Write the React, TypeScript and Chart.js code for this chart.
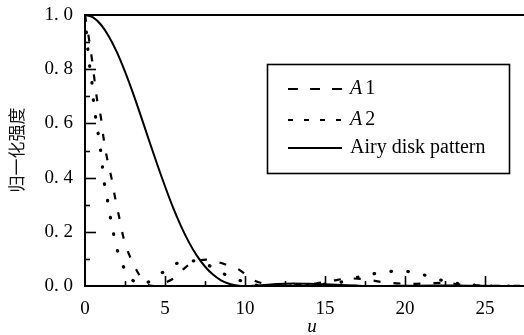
import React, { useEffect, useRef } from "react";
import { Chart, registerables } from "chart.js";
Chart.register(...registerables);

// ---- data ----
const uAiry = [0, 0.5, 1, 1.5, 2, 2.5, 3, 3.5, 4, 4.5, 5, 5.5, 6, 6.5, 7, 7.5, 8, 8.5, 9, 9.5, 10, 11, 12, 13, 14, 15, 16, 17, 18, 19, 20, 22, 24, 26, 27.5];
const iAiry = [1, 0.991, 0.964, 0.92, 0.862, 0.791, 0.712, 0.626, 0.538, 0.451, 0.368, 0.29, 0.221, 0.161, 0.111, 0.072, 0.042, 0.021, 0.0085, 0.0019, 0, 0.003, 0.007, 0.009, 0.008, 0.006, 0.004, 0.0015, 0.0001, 0.0003, 0.001, 0.002, 0.001, 0.0001, 0.0001];

const uA1 = [0, 0.2, 0.45, 0.75, 1.0, 1.15, 1.35, 1.65, 1.9, 2.15, 2.4, 2.8, 3.4, 3.8, 4.3, 5.0, 5.7, 6.3, 7.0, 7.6, 8.2, 9.0, 9.5, 10.0, 10.6, 11.5, 12.5, 13.5, 14.5, 15.5, 16.5, 17.5, 18.5, 19.5, 20.5, 21.5, 22.5, 23.5, 24.5, 27.5];
const iA1 = [1.0, 0.93, 0.83, 0.69, 0.62, 0.55, 0.48, 0.4, 0.32, 0.25, 0.18, 0.11, 0.04, 0.008, 0.0, 0.012, 0.035, 0.07, 0.092, 0.097, 0.09, 0.075, 0.065, 0.045, 0.02, 0.006, 0.003, 0.005, 0.01, 0.02, 0.028, 0.025, 0.015, 0.01, 0.008, 0.01, 0.012, 0.005, 0.002, 0];

const uA2 = [0, 0.12, 0.25, 0.42, 0.5, 0.62, 0.75, 0.93, 1.06, 1.15, 1.35, 1.5, 1.7, 1.9, 2.2, 2.7, 3.2, 3.6, 4.1, 4.6, 5.1, 5.6, 6.2, 6.7, 7.2, 7.7, 8.6, 9.7, 10.5, 11.5, 12.5, 13.5, 14.5, 15.7, 16.6, 17.6, 18.8, 19.8, 20.8, 21.8, 22.8, 23.8, 25, 27.5];
const iA2 = [1.0, 0.91, 0.83, 0.76, 0.7, 0.64, 0.59, 0.52, 0.46, 0.4, 0.34, 0.28, 0.22, 0.16, 0.1, 0.04, 0.012, 0.005, 0.02, 0.04, 0.06, 0.08, 0.09, 0.093, 0.088, 0.077, 0.047, 0.02, 0.005, 0.0, 0.0, 0.003, 0.006, 0.01, 0.025, 0.04, 0.052, 0.055, 0.047, 0.03, 0.013, 0.007, 0, 0];

const xTickValues = [0, 5, 10, 15, 20, 25];
const yTickValues = [0, 0.2, 0.4, 0.6, 0.8, 1.0];
const xMinorStep = 2.5;
const yMinorStep = 0.1;
const xMax = 27.44;

const seriesNames = ["A1", "A2", "Airy disk pattern"];
const yTitle = "归一化强度";
const xTitle = "u";

const SERIF = "'Liberation Serif', 'Times New Roman', serif";

function pts(us: number[], is: number[]) {
  return us.map((u, k) => ({ x: u, y: is[k] }));
}

const decor = {
  id: "decor",
  afterDatasetsDraw(chart: any) {
    const { ctx, chartArea: ca, scales } = chart;
    const x = scales.x;
    const y = scales.y;
    ctx.save();
    ctx.strokeStyle = "#000";
    ctx.fillStyle = "#000";
    // top frame line
    ctx.lineWidth = 2;
    ctx.beginPath();
    ctx.moveTo(ca.left, ca.top);
    ctx.lineTo(ca.right, ca.top);
    ctx.stroke();
    // y ticks (inward)
    ctx.lineWidth = 1.6;
    for (let k = 1; k <= 9; k++) {
      const v = k * yMinorStep;
      const py = Math.round(y.getPixelForValue(v)) + 0.5;
      const len = k % 2 === 0 ? 11 : 5;
      ctx.beginPath();
      ctx.moveTo(ca.left, py);
      ctx.lineTo(ca.left + len, py);
      ctx.stroke();
    }
    // x ticks (inward)
    for (let k = 1; k * xMinorStep < xMax; k++) {
      const v = k * xMinorStep;
      const px = Math.round(x.getPixelForValue(v)) + 0.5;
      const len = k % 2 === 0 ? 10 : 5;
      ctx.beginPath();
      ctx.moveTo(px, ca.bottom);
      ctx.lineTo(px, ca.bottom - len);
      ctx.stroke();
    }
    // axis titles
    ctx.font = `italic 19px ${SERIF}`;
    ctx.textAlign = "center";
    ctx.textBaseline = "middle";
    ctx.fillText(xTitle, ca.left + 227, ca.bottom + 41);
    ctx.save();
    ctx.translate(17, ca.top + 135);
    ctx.rotate(-Math.PI / 2);
    ctx.font = `17px 'Noto Sans CJK SC', sans-serif`;
    ctx.fillStyle = "#111";
    ctx.fillText(yTitle, 0, 0);
    ctx.restore();

    // legend
    const bx = ca.left + 182;
    const by = ca.top + 49;
    const bw = 242;
    const bh = 109;
    ctx.lineWidth = 1.6;
    ctx.strokeRect(bx + 0.5, by + 0.5, bw, bh);
    const rows = [25, 56, 84];
    const dashes = [[10, 12], [5, 11], []];
    const widths = [2.2, 2.0, 1.8];
    ctx.textAlign = "left";
    ctx.textBaseline = "middle";
    rows.forEach((dy, k) => {
      const ly = by + dy;
      ctx.setLineDash(dashes[k]);
      ctx.lineWidth = widths[k];
      ctx.beginPath();
      ctx.moveTo(bx + 21, ly);
      ctx.lineTo(bx + 75, ly);
      ctx.stroke();
      ctx.setLineDash([]);
      const name = seriesNames[k];
      if (k < 2) {
        ctx.font = `italic 20px ${SERIF}`;
        ctx.fillText(name[0], bx + 83, ly);
        const w = ctx.measureText(name[0]).width;
        ctx.font = `20px ${SERIF}`;
        ctx.fillText(name.slice(1), bx + 83 + w + 3, ly);
      } else {
        ctx.font = `20px ${SERIF}`;
        ctx.fillText(name, bx + 83, ly);
      }
    });
    ctx.restore();
  },
};

export default function App() {
  const ref = useRef<HTMLCanvasElement | null>(null);
  useEffect(() => {
    if (!ref.current) return;
    const chart = new Chart(ref.current, {
      type: "line",
      data: {
        datasets: [
          {
            label: seriesNames[0],
            data: pts(uA1, iA1),
            borderColor: "#000",
            borderWidth: 2.2,
            borderDash: [7, 13],
            pointRadius: 0,
            cubicInterpolationMode: "monotone",
            fill: false,
          },
          {
            label: seriesNames[1],
            data: pts(uA2, iA2),
            borderColor: "#000",
            borderWidth: 3.2,
            borderDash: [0.5, 16.5],
            borderCapStyle: "round",
            pointRadius: 0,
            cubicInterpolationMode: "monotone",
            fill: false,
          },
          {
            label: seriesNames[2],
            data: pts(uAiry, iAiry),
            borderColor: "#000",
            borderWidth: 2,
            pointRadius: 0,
            cubicInterpolationMode: "monotone",
            fill: false,
          },
        ],
      },
      options: {
        animation: false,
        responsive: false,
        parsing: false as any,
        layout: { padding: { top: 15, right: 0, left: 0, bottom: 0 } },
        plugins: { legend: { display: false }, title: { display: false }, tooltip: { enabled: false } },
        scales: {
          x: {
            type: "linear",
            min: 0,
            max: xMax,
            grid: { display: false, drawTicks: false },
            border: { display: true, color: "#000", width: 2 },
            afterBuildTicks: (s: any) => {
              s.ticks = xTickValues.map((v) => ({ value: v }));
            },
            afterFit: (s: any) => {
              s.height = 49;
              s.paddingLeft = 0;
              s.paddingRight = 0;
            },
            ticks: {
              padding: 12,
              color: "#000",
              font: { family: SERIF, size: 19 },
              maxRotation: 0,
              callback: (v: any) => String(v),
            },
          },
          y: {
            type: "linear",
            min: 0,
            max: 1,
            grid: { display: false, drawTicks: false },
            border: { display: true, color: "#000", width: 2 },
            afterBuildTicks: (s: any) => {
              s.ticks = yTickValues.map((v) => ({ value: v }));
            },
            afterFit: (s: any) => {
              s.width = 85;
              s.paddingTop = 0;
              s.paddingBottom = 0;
            },
            ticks: {
              padding: 12,
              color: "#000",
              font: { family: SERIF, size: 19 },
              callback: (v: any) => Number(v).toFixed(1).replace(".", ". "),
            },
          },
        },
      },
      plugins: [decor],
    });
    return () => chart.destroy();
  }, []);
  return (
    <div style={{ position: "absolute", left: 0, top: 0, width: 524, height: 335, background: "#fff" }}>
      <canvas ref={ref} width={524} height={335} style={{ display: "block" }} />
    </div>
  );
}
